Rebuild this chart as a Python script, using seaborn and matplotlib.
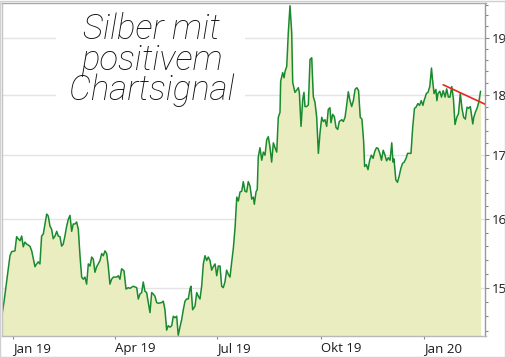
import numpy as np
import pandas as pd
import seaborn as sns
import matplotlib.pyplot as plt
import matplotlib.ticker as mticker
from matplotlib.patches import Rectangle

# Silver price (USD/oz); days counted from 2019-01-01
days_q1 = [-10.0, -8.3, -5.9, -2.9, -1.4, 1.5, 3.0, 4.4, 6.0, 7.5, 8.9, 10.4, 11.9, 14.8, 16.4,
           19.3, 20.8, 22.2, 23.7, 25.2, 26.7, 28.2, 29.7, 31.1, 32.6, 34.1, 35.5, 37.1, 38.6,
           40.0, 41.5, 43.0, 44.4, 45.9, 47.5, 48.9, 50.4, 51.9, 53.3, 54.8, 56.3, 57.8, 59.3,
           60.8, 62.2, 63.7, 65.2, 66.7, 68.2, 69.7, 71.1, 72.6, 74.1, 75.5, 77.1, 78.6, 80.0,
           81.5, 83.0, 84.4, 85.9, 87.4, 88.9, 91.9, 93.3, 94.8, 96.3, 98.4]
prices_q1 = [14.62, 14.79, 15.08, 15.46, 15.52, 15.53, 15.74, 15.71, 15.68, 15.75, 15.59, 15.66,
             15.63, 15.60, 15.53, 15.30, 15.34, 15.37, 15.34, 15.75, 15.78, 15.93, 16.08, 16.05,
             15.90, 15.85, 15.71, 15.75, 15.82, 15.75, 15.74, 15.60, 15.63, 15.75, 15.90, 16.00,
             16.06, 15.82, 15.93, 15.93, 15.96, 15.85, 15.46, 15.15, 15.12, 15.15, 15.05, 15.34,
             15.31, 15.44, 15.41, 15.22, 15.30, 15.34, 15.39, 15.49, 15.46, 15.53, 15.49, 15.31,
             15.05, 15.12, 15.15, 15.15, 15.17, 15.12, 15.27, 15.24]

days_q2 = [100.2, 102.2, 103.7, 106.6, 109.7, 111.1, 112.6, 114.1, 115.5, 117.0, 118.5, 120.0,
           121.5, 123.0, 124.4, 125.9, 127.4, 128.9, 131.9, 133.3, 134.8, 136.3, 137.7, 139.3,
           140.8, 142.2, 143.7, 145.2, 146.6, 148.1, 149.6, 151.1, 152.6, 154.1, 155.5, 157.0,
           157.9, 159.4, 161.5, 163.0, 164.4, 165.9, 167.4, 168.9, 170.4, 171.9, 173.3, 174.8,
           176.3, 177.7, 179.3, 180.8, 182.2, 183.7, 185.2, 186.6, 188.1, 189.6, 191.1, 192.6,
           194.1, 195.5, 197.1]
prices_q2 = [14.98, 15.00, 14.99, 15.02, 15.00, 14.84, 14.91, 14.93, 15.08, 14.95, 14.93, 14.79,
             14.65, 14.93, 14.91, 14.88, 14.79, 14.78, 14.79, 14.81, 14.69, 14.41, 14.47, 14.45,
             14.47, 14.60, 14.58, 14.60, 14.34, 14.45, 14.55, 14.69, 14.81, 14.84, 14.84, 14.98,
             15.02, 14.69, 14.74, 14.93, 14.88, 14.84, 15.02, 15.34, 15.46, 15.39, 15.44, 15.39,
             15.25, 15.30, 15.34, 15.17, 15.31, 15.31, 15.02, 15.00, 15.08, 15.25, 15.19, 15.15,
             15.37, 15.56, 15.88]

days_q3 = [198.6, 200.0, 201.5, 203.0, 204.4, 205.9, 207.4, 208.8, 210.4, 211.9, 213.3, 214.2,
           215.7, 216.8, 217.7, 219.2, 220.8, 222.2, 223.7, 225.2, 226.6, 228.1, 229.6, 231.1,
           232.6, 234.1, 235.5, 237.0, 237.6, 239.4, 240.6, 241.5, 243.0, 244.4, 245.9, 247.4,
           248.3, 250.3, 251.9, 253.3, 254.2, 255.7, 257.2, 258.3, 259.2, 260.7, 262.2, 263.7,
           265.2, 266.6, 268.1, 269.6, 271.1, 272.6]
prices_q3 = [16.34, 16.28, 16.42, 16.43, 16.58, 16.43, 16.42, 16.58, 16.51, 16.31, 16.34, 16.23,
             16.42, 16.46, 16.97, 17.12, 16.92, 17.05, 17.00, 17.25, 17.30, 17.13, 16.89, 17.20,
             17.12, 17.05, 17.62, 17.70, 18.23, 18.38, 18.29, 18.40, 18.49, 19.09, 19.58, 19.09,
             18.21, 18.04, 18.08, 18.12, 18.04, 17.47, 17.92, 18.04, 17.80, 17.80, 17.83, 18.61,
             18.64, 17.97, 17.87, 17.62, 17.03, 17.37]

days_q4 = [274.1, 275.5, 277.0, 278.5, 279.9, 281.4, 282.3, 283.8, 285.3, 286.8, 288.3, 289.7,
           291.9, 293.3, 294.8, 296.3, 297.7, 299.2, 300.7, 302.2, 303.7, 305.3, 306.8, 308.3,
           309.8, 311.3, 312.2, 313.7, 315.2, 316.7, 318.2, 319.7, 321.2, 322.7, 324.1, 325.7,
           327.2, 328.7, 330.3, 331.7, 333.3, 334.8, 336.3, 337.4, 338.3, 339.9, 341.4, 342.8,
           344.4, 345.9, 347.4, 349.0, 350.4, 351.9, 353.4, 354.9, 356.5, 357.9, 359.5, 361.0,
           362.5, 364.0]
prices_q4 = [17.62, 17.55, 17.58, 17.47, 17.75, 17.78, 17.53, 17.67, 17.63, 17.45, 17.42, 17.55,
             17.58, 17.55, 17.62, 17.83, 18.05, 17.90, 17.80, 17.90, 18.09, 18.12, 18.07, 17.62,
             17.59, 17.23, 16.82, 16.85, 16.77, 16.92, 17.00, 16.95, 17.06, 17.12, 17.11, 17.03,
             16.92, 17.08, 17.00, 16.91, 16.96, 16.92, 17.20, 16.89, 16.94, 16.61, 16.57, 16.66,
             16.79, 16.87, 16.89, 16.95, 17.03, 17.03, 17.03, 17.45, 17.77, 17.79, 17.85, 17.82,
             17.90, 17.82]

days_2020 = [365.0, 366.1, 367.0, 368.5, 370.1, 371.6, 372.4, 373.9, 375.5, 376.4, 377.4, 379.0,
             380.5, 382.0, 383.7, 385.1, 386.6, 388.1, 389.6, 391.1, 392.5, 394.1, 395.6, 397.2,
             398.7, 400.2, 401.7, 403.2, 404.6, 406.1, 408.3, 409.2, 410.7, 412.1, 413.7, 415.2]
prices_2020 = [17.90, 17.96, 18.02, 18.04, 18.14, 18.46, 18.28, 18.02, 18.09, 17.90, 18.02, 18.06,
               17.96, 18.07, 17.96, 18.10, 17.96, 17.96, 18.14, 17.93, 17.50, 17.62, 17.68, 18.02,
               17.77, 17.62, 17.59, 17.79, 17.77, 17.80, 17.51, 17.62, 17.71, 17.77, 17.88, 18.06]

# red resistance line
trend_days = [382.0, 421.4]
trend_prices = [18.17, 17.82]

tick_dates = ["2019-01-01", "2019-04-01", "2019-07-01", "2019-10-01", "2020-01-01"]
tick_labels = ["Jan 19", "Apr 19", "Jul 19", "Okt 19", "Jan 20"]
y_ticks = [15, 16, 17, 18, 19]
title_lines = ["Silber mit", "positivem", "Chartsignal"]

base = pd.Timestamp("2019-01-01")
df = pd.DataFrame({
    "day": days_q1 + days_q2 + days_q3 + days_q4 + days_2020,
    "price": prices_q1 + prices_q2 + prices_q3 + prices_q4 + prices_2020,
})
df["date"] = base + pd.to_timedelta(df["day"], unit="D")
trend_x = base + pd.to_timedelta(trend_days, unit="D")

sns.set_theme(style="white")
plt.rcParams["font.family"] = ["Open Sans", "DejaVu Sans"]

fig = plt.figure(figsize=(5.06, 3.57), dpi=100)
ax = fig.add_axes([2 / 506, 21 / 357, 483.5 / 506, 333 / 357])

ax.fill_between(df["date"], df["price"], 14.0, color="#e9edc0", lw=0, zorder=1)
sns.lineplot(data=df, x="date", y="price", ax=ax, color="#1a8a2e", lw=1.1, zorder=2)
ax.plot(trend_x, trend_prices, color="#e8271f", lw=1.2, zorder=3)

ax.set_yscale("log")
ax.set_ylim(14.33, 19.63)
ax.set_xlim(base + pd.Timedelta(days=-10.0), base + pd.Timedelta(days=419.6))

ax.yaxis.tick_right()
ax.yaxis.set_major_locator(mticker.FixedLocator(y_ticks))
ax.yaxis.set_major_formatter(mticker.FixedFormatter([str(v) for v in y_ticks]))
ax.yaxis.set_minor_locator(mticker.FixedLocator(np.arange(14.4, 19.7, 0.2)))
ax.yaxis.set_minor_formatter(mticker.NullFormatter())
ax.tick_params(axis="y", which="major", length=3, width=0.8, color="#888888",
               pad=1.5, labelsize=9.5, labelcolor="#1a1a1a", right=True, left=False)
ax.tick_params(axis="y", which="minor", length=2, width=0.8, color="#888888", right=True, left=False)

ax.set_xticks(pd.to_datetime(tick_dates))
ax.set_xticklabels(tick_labels, ha="left")
ax.tick_params(axis="x", length=2, width=0.8, color="#888888", pad=2.5,
               labelsize=9.5, labelcolor="#1a1a1a", bottom=True)

ax.set_xlabel("")
ax.set_ylabel("")
ax.set_axisbelow(True)
ax.yaxis.grid(True, which="major", color="#e4e4e4", lw=1)
ax.xaxis.grid(False)

for side, col in [("top", "#a8a8a8"), ("left", "#c4c4c4"), ("right", "#999999"), ("bottom", "#b8b8b8")]:
    ax.spines[side].set_visible(True)
    ax.spines[side].set_color(col)
    ax.spines[side].set_linewidth(1)

# white panel behind the headline hides the gridlines there
ax.add_patch(Rectangle((0.112, 0.685), 0.391, 0.288, transform=ax.transAxes,
                       facecolor="white", edgecolor="none", zorder=4))
# handwritten-style headline, thin pen stroke (baseline = last line)
ax.text(0.31, 0.709, "\n".join(title_lines), transform=ax.transAxes, ha="center", va="baseline",
        multialignment="center", linespacing=0.88,
        fontsize=25, family=["Roboto", "DejaVu Sans"], style="italic", weight="light",
        color="#111111", zorder=5)

fig.patches.append(Rectangle((0.5 / 506, 0.5 / 357), 505 / 506, 356 / 357, transform=fig.transFigure,
                             fill=False, edgecolor="#d0d0d0", lw=1))

fig.savefig("out.png", dpi=100)
